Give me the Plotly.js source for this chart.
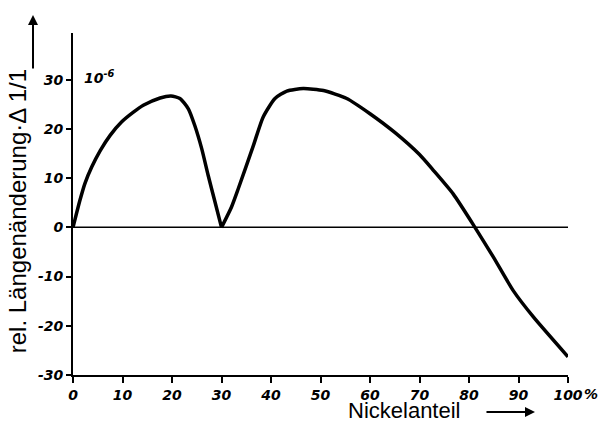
<!DOCTYPE html>
<html>
<head>
<meta charset="utf-8">
<script src="https://cdn.plot.ly/plotly-3.0.1.min.js"></script>
<style>html,body{margin:0;padding:0;background:#fff;}#chart{width:606px;height:421px;}</style>
</head>
<body>
<div id="chart"></div>
<script>
// Nickel content (%) and relative length change (10^-6); null separates the two branches at the cusp
const nickel = [0, 1.4, 2.4, 3.8, 5.5, 7.5, 9.8, 12.2, 14.2, 17.6, 19.8, 21.6, 23.3, 24.6, 26, 27.3, 28.7, 30,
  null,
  30, 32, 33.4, 36.4, 38.4, 40.8, 43.2, 46.5, 50.6, 55.3, 60, 65, 70, 72.8, 76.8, 81.2, 84.9, 88.9, 93, 100];
const change = [0, 5.5, 8.9, 12.3, 15.6, 18.7, 21.4, 23.4, 24.8, 26.3, 26.7, 26.2, 24.1, 20.7, 16, 10.6, 5.1, 0,
  null,
  0, 4.1, 7.9, 16.5, 22.4, 26.2, 27.7, 28.2, 27.8, 26.2, 23.1, 19.3, 14.8, 11.6, 6.8, 0, -6, -12.8, -18.2, -26.3];
const xTickVals = [0, 10, 20, 30, 40, 50, 60, 70, 80, 90, 100];
const xTickText = ['0', '10', '20', '30', '40', '50', '60', '70', '80', '90', '100'];
const yTickVals = [-30, -20, -10, 0, 10, 20, 30];
const yTickText = ['-30', '-20', '-10', '0', '10', '20', '30'];

const tickFont = {family: 'DejaVu Sans, sans-serif', size: 14, color: '#000', style: 'italic', weight: 'bold'};

const data = [{
  x: nickel, y: change, type: 'scatter', mode: 'lines', connectgaps: false,
  line: {color: '#000', width: 3.5, shape: 'spline', smoothing: 0.6},
  cliponaxis: false, hoverinfo: 'skip'
}];

const layout = {
  width: 606, height: 421,
  margin: {l: 73, r: 38, t: 33, b: 46, pad: 0},
  paper_bgcolor: '#fff', plot_bgcolor: '#fff',
  showlegend: false,
  xaxis: {
    range: [0, 100], showgrid: false, zeroline: false,
    showline: true, linecolor: '#000', linewidth: 2,
    ticks: 'outside', ticklen: 6, tickwidth: 2, tickcolor: '#000',
    tickvals: xTickVals, ticktext: xTickText, tickfont: tickFont
  },
  yaxis: {
    range: [-30, 39.5], showgrid: false, zeroline: false,
    showline: true, linecolor: '#000', linewidth: 2,
    ticks: 'outside', ticklen: 5, tickwidth: 2, tickcolor: '#000',
    tickvals: yTickVals, ticktext: yTickText, tickfont: tickFont
  },
  shapes: [{type: 'line', xref: 'x', yref: 'y', x0: 0, x1: 100, y0: 0, y1: 0, line: {color: '#000', width: 1.5}}],
  annotations: [
    {xref: 'paper', yref: 'paper', x: -0.113, y: 0.479, text: 'rel. Längenänderung·Δ 1/1', textangle: -90,
     showarrow: false, font: {family: 'Liberation Sans, Arial, sans-serif', size: 24, color: '#000'}, xanchor: 'center', yanchor: 'middle'},
    {xref: 'paper', yref: 'paper', x: -0.0808, y: 1.0526, ax: 0, ay: 55, axref: 'pixel', ayref: 'pixel', text: '',
     showarrow: true, arrowhead: 2, arrowsize: 1, arrowwidth: 2, arrowcolor: '#000'},
    {xref: 'paper', yref: 'paper', x: 0.669, y: -0.103, text: 'Nickelanteil', showarrow: false,
     font: {family: 'Liberation Sans, Arial, sans-serif', size: 22, color: '#000'}, xanchor: 'center', yanchor: 'middle'},
    {xref: 'paper', yref: 'paper', x: 0.9333, y: -0.108, ax: -50, ay: 0, axref: 'pixel', ayref: 'pixel', text: '',
     showarrow: true, arrowhead: 2, arrowsize: 1, arrowwidth: 2, arrowcolor: '#000'},
    {xref: 'paper', yref: 'paper', x: 1.046, y: -0.055, text: '%', showarrow: false,
     font: tickFont, xanchor: 'center', yanchor: 'middle'},
    {xref: 'x', yref: 'y', x: 1.8, y: 30.5, text: '10<sup>-6</sup>', showarrow: false,
     font: tickFont, xanchor: 'left', yanchor: 'middle'}
  ]
};

Plotly.newPlot('chart', data, layout, {displayModeBar: false, staticPlot: true});
</script>
</body>
</html>
